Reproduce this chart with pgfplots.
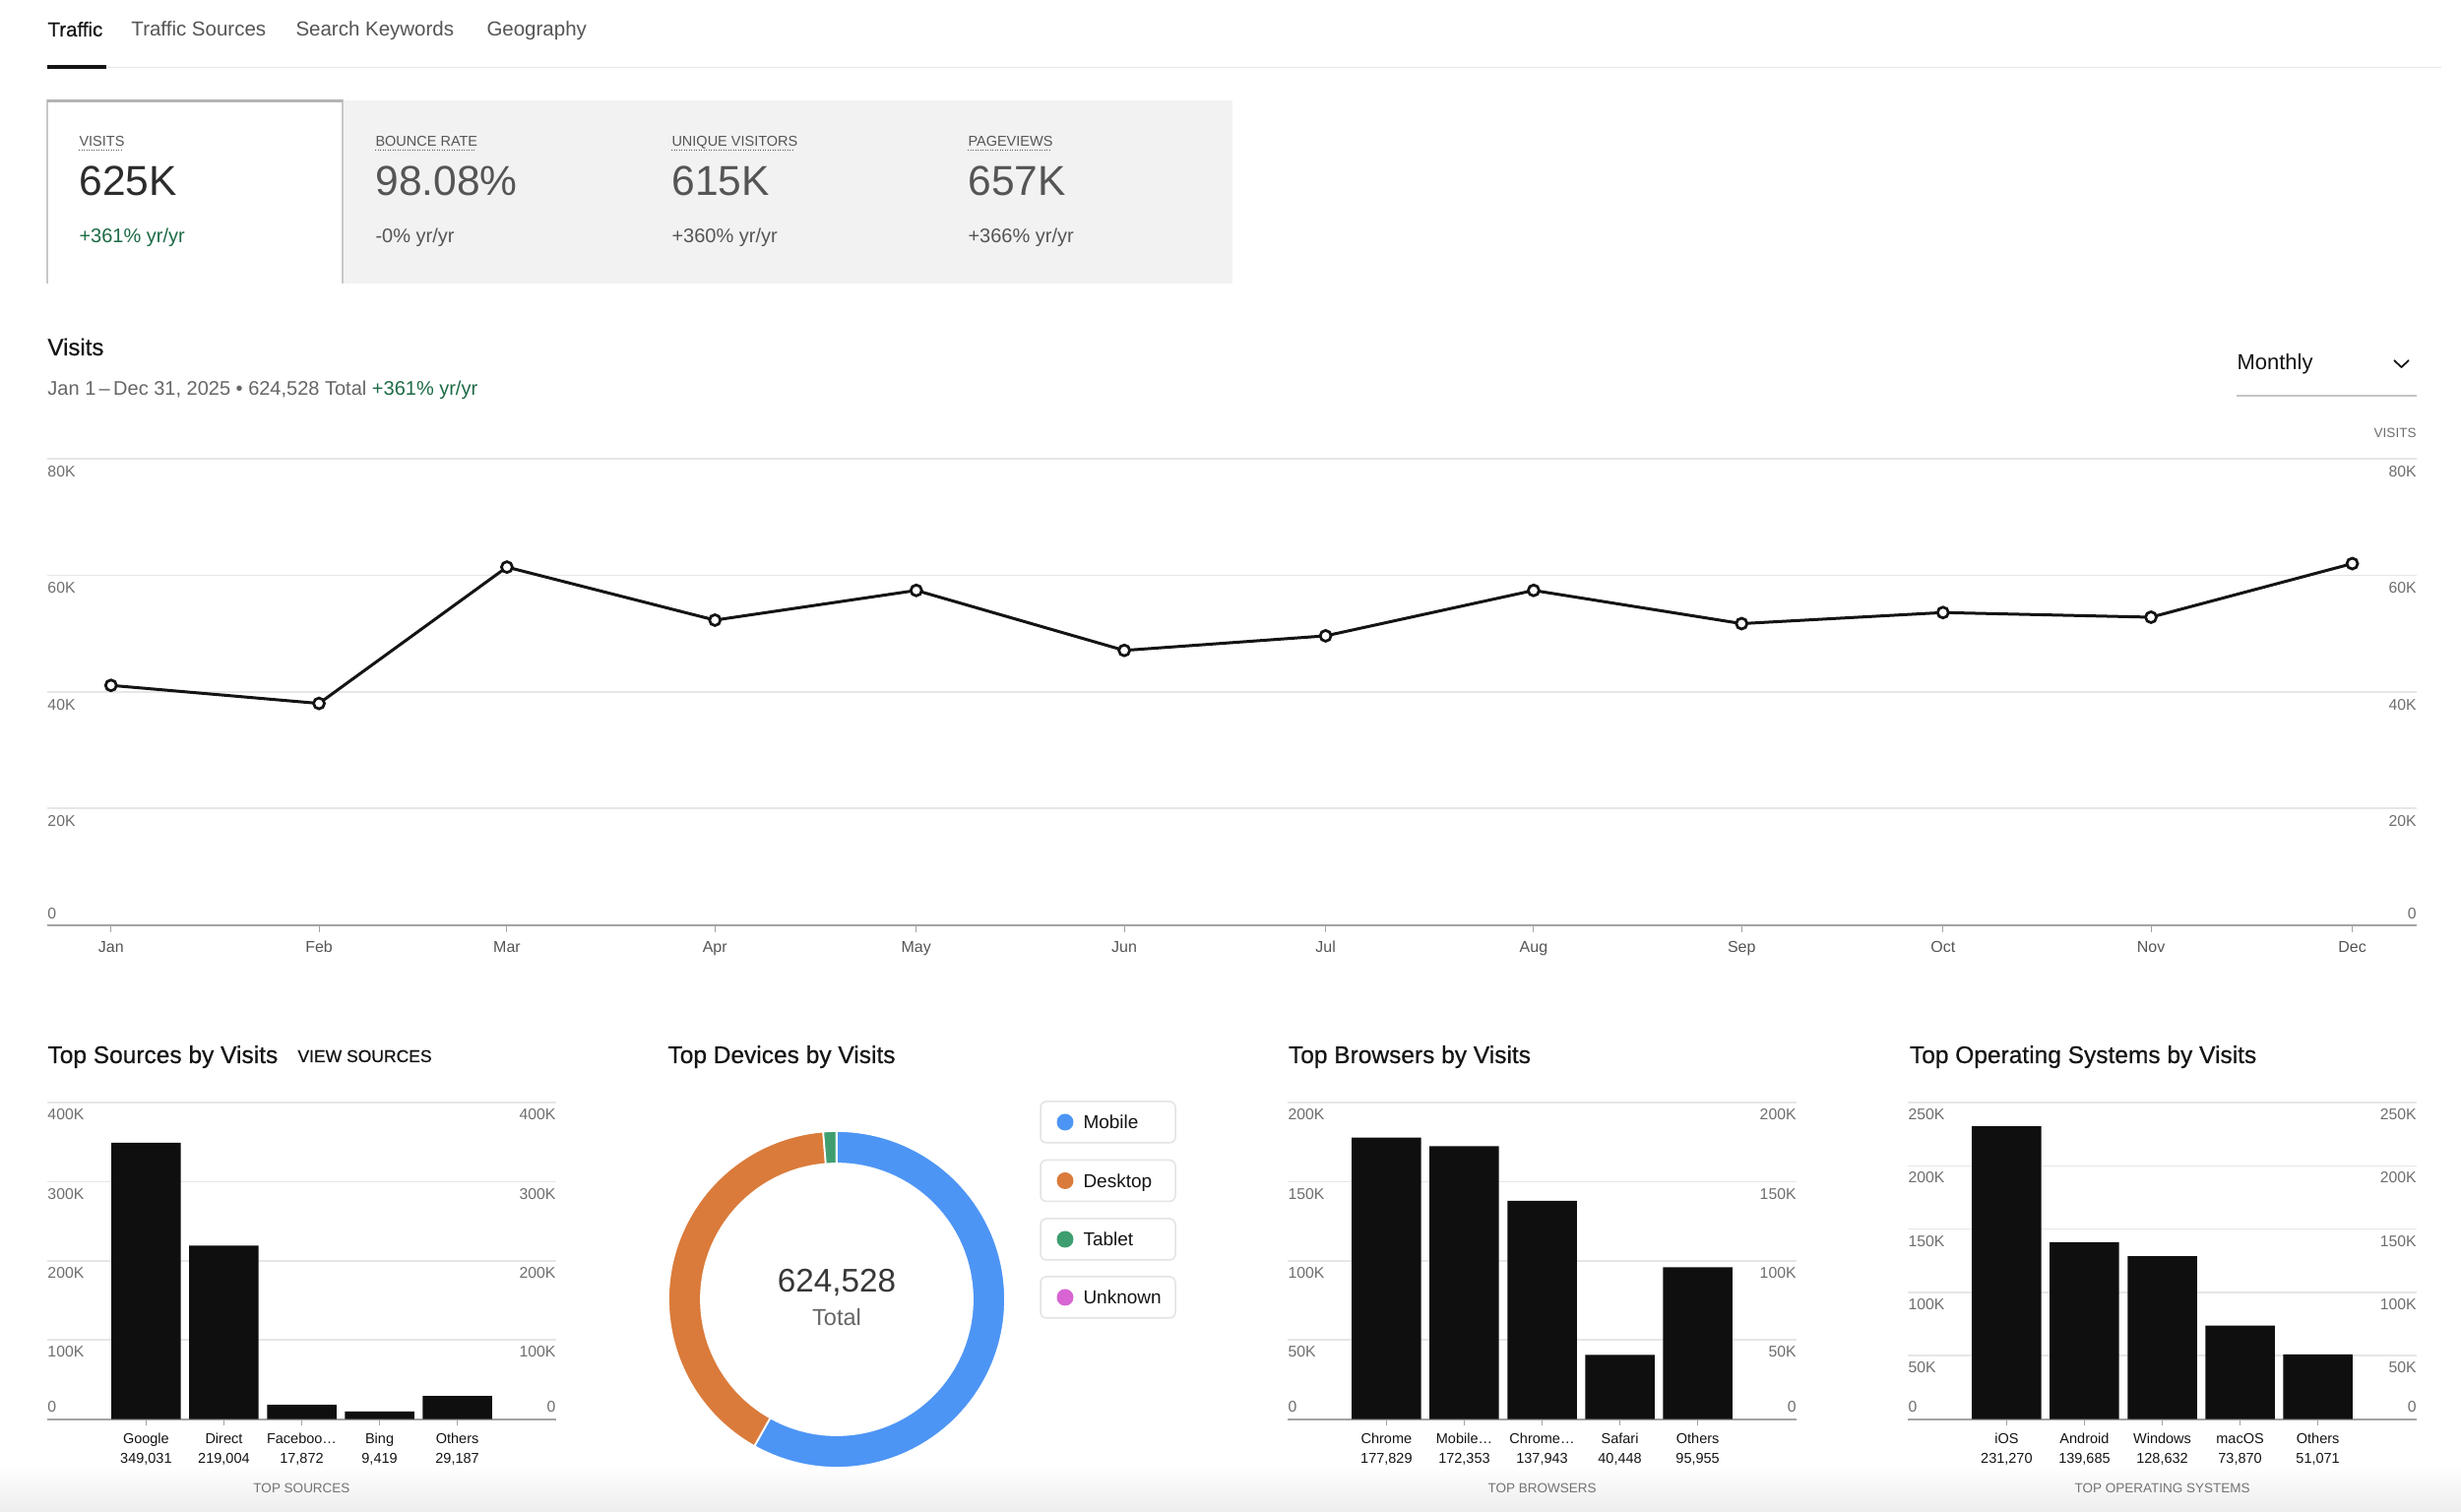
\documentclass[border=0pt]{standalone}
\usepackage{fontspec}
\setmainfont{Liberation Sans}
\newfontfamily\medfont[FakeBold=0.5]{Liberation Sans}
\usepackage{pgfplots}
\usepackage{pgfplotstable}
\pgfplotsset{compat=1.18}

\definecolor{txt}{HTML}{141414}
\definecolor{dim}{HTML}{555555}
\definecolor{sub}{HTML}{666666}
\definecolor{tickc}{HTML}{6E6E6E}
\definecolor{gridc}{HTML}{E6E6E6}
\definecolor{axisc}{HTML}{A3A3A3}
\definecolor{upgreen}{HTML}{1C6B45}
\definecolor{kpibg}{HTML}{F2F2F2}
\definecolor{cardb}{HTML}{C8C8C8}
\definecolor{legb}{HTML}{E3E3E3}
\definecolor{mob}{HTML}{4D95F5}
\definecolor{desk}{HTML}{DA7B3B}
\definecolor{tabc}{HTML}{3F9E6F}
\definecolor{unk}{HTML}{D865D3}
\definecolor{barc}{HTML}{0F0F0F}

\newcommand{\fs}[1]{\fontsize{#1}{#1}\selectfont}

% monthly visits (x = day of year of the 1st of each month)
\pgfplotstableread{
x visits
0 41100
31 38000
59 61400
90 52300
120 57400
151 47100
181 49600
212 57400
243 51700
273 53600
304 52800
334 62000
}\visitstab

\pgfplotstableread{
x v
0 349031
1 219004
2 17872
3 9419
4 29187
}\sourcetab

\pgfplotstableread{
x v
0 177829
1 172353
2 137943
3 40448
4 95955
}\browsertab

\pgfplotstableread{
x v
0 231270
1 139685
2 128632
3 73870
4 51071
}\ostab

\pgfplotstableread{
device v
Mobile 363100
Desktop 253400
Tablet 7900
Unknown 128
}\devtab
\pgfplotstablegetelem{0}{v}\of\devtab \edef\dA{\pgfplotsretval}
\pgfplotstablegetelem{1}{v}\of\devtab \edef\dB{\pgfplotsretval}
\pgfplotstablegetelem{2}{v}\of\devtab \edef\dC{\pgfplotsretval}
\pgfplotstablegetelem{3}{v}\of\devtab \edef\dD{\pgfplotsretval}
\edef\dT{\fpeval{\dA+\dB+\dC+\dD}}
\edef\aA{\fpeval{round(90-360*\dA/\dT,3)}}
\edef\aB{\fpeval{round(\aA-360*\dB/\dT,3)}}
\edef\aC{\fpeval{round(\aB-360*\dC/\dT,3)}}
\edef\aD{\fpeval{round(\aC-360*\dD/\dT,3)}}

\pgfplotsset{
  barax/.style={
    scale only axis, anchor=south west, width=206.8pt, height=128.6pt,
    xmin=-1.27, xmax=5.27, ymin=0,
    axis lines*=left, y axis line style={draw=none},
    x axis line style={draw=axisc, line width=0.8pt},
    yticklabel=\empty, ytick style={draw=none}, scaled y ticks=false,
    ymajorgrids, grid style={draw=gridc, line width=0.6pt},
    xtick={0,1,2,3,4}, tick align=outside, major tick length=2.4pt,
    xtick style={draw=axisc, line width=0.5pt},
    xticklabel style={align=center, font=\fontsize{5.8pt}{8pt}\selectfont, text=txt, inner sep=0pt, anchor=north, yshift=-3.2pt},
    clip=false},
}
\tikzset{ylab/.style={inner sep=0pt, font=\fs{6.3pt}, text=tickc}}

\newcommand{\seg}[3]{\fill[#1, draw=white, line width=0.7pt] (#2:171) arc[start angle=#2, end angle=#3, radius=171] -- (#3:138) arc[start angle=#3, end angle=#2, radius=138] -- cycle;}

\begin{document}
\begin{tikzpicture}
\useasboundingbox (0,0) rectangle (1000pt,-614.4pt);
\fill[white] (0,0) rectangle (1000pt,-614.4pt);

\begin{scope}[x=0.4pt,y=-0.4pt]
% bottom fade
\shade[top color=white, bottom color=black!7] (0,1488) rectangle (2500,1536);
% tabs
\node[anchor=base west, inner sep=0, font=\medfont\fs{8.2pt}, text=txt] at (48,37) {Traffic};
\node[anchor=base west, inner sep=0, font=\fs{8.2pt}, text=dim] at (133,37) {Traffic Sources};
\node[anchor=base west, inner sep=0, font=\fs{8.2pt}, text=dim] at (300,37) {Search Keywords};
\node[anchor=base west, inner sep=0, font=\fs{8.2pt}, text=dim] at (494,37) {Geography};
\draw[gridc, line width=0.7pt] (48,68.5) -- (2480,68.5);
\fill[txt] (48,66) rectangle (108,70);

% KPI cards
\fill[kpibg] (348,102) rectangle (1252,288);
\fill[white] (48,102) rectangle (348,288);
\draw[cardb, line width=0.5pt] (48,288) -- (48,102) -- (348,102) -- (348,288);
\draw[cardb!90!black, line width=0.9pt] (48,102.5) -- (348,102.5);
\foreach \xx/\lab/\ww in {80/VISITS/44,381/BOUNCE RATE/101,682/UNIQUE VISITORS/124,983/PAGEVIEWS/84}{
  \node[anchor=base west, inner sep=0, font=\fs{5.8pt}, text=dim] at (\xx,148.5) {\lab};
  \draw[dim, line width=0.4pt, dash pattern=on 0.4pt off 0.6pt] (\xx,153) -- ++(\ww,0);
}
\node[anchor=base west, inner sep=0, font=\fs{17pt}, text=txt!90] at (80,198.5) {625K};
\node[anchor=base west, inner sep=0, font=\fs{17pt}, text=dim] at (381,198.5) {98.08\%};
\node[anchor=base west, inner sep=0, font=\fs{17pt}, text=dim] at (682,198.5) {615K};
\node[anchor=base west, inner sep=0, font=\fs{17pt}, text=dim] at (983,198.5) {657K};
\node[anchor=base west, inner sep=0, font=\fs{8pt}, text=upgreen] at (80,246.5) {+361\% yr/yr};
\node[anchor=base west, inner sep=0, font=\fs{8pt}, text=dim] at (381,246.5) {-0\% yr/yr};
\node[anchor=base west, inner sep=0, font=\fs{8pt}, text=dim] at (682,246.5) {+360\% yr/yr};
\node[anchor=base west, inner sep=0, font=\fs{8pt}, text=dim] at (983,246.5) {+366\% yr/yr};

% Visits header
\node[anchor=base west, inner sep=0, font=\medfont\fs{9.6pt}, text=txt] at (48,361) {Visits};
\node[anchor=base west, inner sep=0, font=\fs{8pt}, text=sub] at (48,401.5) {Jan 1\,–\,Dec 31, 2025 • 624,528 Total \textcolor{upgreen}{+361\% yr/yr}};
\node[anchor=base west, inner sep=0, font=\fs{8.8pt}, text=txt] at (2272,376) {Monthly};
\draw[txt, line width=0.7pt] (2432,366) -- (2439.5,373) -- (2447,366);
\draw[gridc!85!black, line width=0.6pt] (2272,402) -- (2455,402);
\node[anchor=base east, inner sep=0, font=\fs{5.4pt}, text=tickc] at (2455,445) {VISITS};

% bottom titles
\node[anchor=base west, inner sep=0, font=\medfont\fs{9.8pt}, text=txt] at (48,1080) {Top Sources by Visits};
\node[anchor=base west, inner sep=0, font=\medfont\fs{7pt}, text=txt] at (302,1079) {VIEW SOURCES};
\node[anchor=base west, inner sep=0, font=\medfont\fs{9.8pt}, text=txt] at (678,1080) {Top Devices by Visits};
\node[anchor=base west, inner sep=0, font=\medfont\fs{9.8pt}, text=txt] at (1308.5,1080) {Top Browsers by Visits};
\node[anchor=base west, inner sep=0, font=\medfont\fs{9.8pt}, text=txt] at (1939.5,1080) {Top Operating Systems by Visits};

% device legend
\foreach \yy/\cc/\lab in {1140/mob/Mobile,1199.5/desk/Desktop,1259/tabc/Tablet,1318/unk/Unknown}{
  \draw[legb, fill=white, rounded corners=2.4pt, line width=0.6pt] (1057,\yy-21) rectangle (1194,\yy+21);
  \fill[\cc] (1082,\yy) circle[radius=3.4pt];
  \node[anchor=base west, inner sep=0, font=\fs{7.6pt}, text=txt] at (1100,\yy+7) {\lab};
}
% donut centre text
\node[anchor=base, inner sep=0, font=\fs{13.3pt}, text=txt!85] at (850,1313) {624,528};
\node[anchor=base, inner sep=0, font=\fs{9.4pt}, text=sub] at (850,1346.5) {Total};
\end{scope}

% donut (angles computed from the device table)
\begin{scope}[shift={(340pt,-528pt)}, x=0.4pt, y=0.4pt]
\seg{mob}{90}{\aA}
\seg{desk}{\aA}{\aB}
\seg{tabc}{\aB}{\aC}
\seg{unk}{\aC}{\aD}
\end{scope}

% main line chart
\begin{axis}[
  at={(19.2pt,-375.8pt)}, anchor=south west, scale only axis,
  width=962.8pt, height=189.4pt,
  xmin=-9.5, xmax=343.6, ymin=0, ymax=80000,
  axis lines*=left, y axis line style={draw=none},
  x axis line style={draw=axisc, line width=0.8pt},
  ytick={0,20000,40000,60000,80000}, yticklabel=\empty, ytick style={draw=none}, scaled y ticks=false,
  ymajorgrids, grid style={draw=gridc, line width=0.6pt},
  xtick={0,31,59,90,120,151,181,212,243,273,304,334},
  xticklabels={Jan,Feb,Mar,Apr,May,Jun,Jul,Aug,Sep,Oct,Nov,Dec},
  tick align=outside, major tick length=2.8pt,
  xtick style={draw=axisc, line width=0.4pt},
  xticklabel style={font=\fs{6.4pt}, text=dim, inner sep=0pt, anchor=north, yshift=-3.6pt},
  clip=false,
]
\addplot[txt, line width=1.2pt, mark=*, mark size=2.2pt, mark options={fill=white, draw=txt, line width=1.1pt}] table[x=x, y=visits] {\visitstab};
\pgfplotsinvokeforeach{20,40,60,80}{
  \node[ylab, anchor=west, yshift=-5.2pt] at (axis cs:-9.5,#1000) {#1K};
  \node[ylab, anchor=east, yshift=-5.2pt] at (axis cs:343.6,#1000) {#1K};
}
\node[ylab, anchor=west, yshift=4.4pt] at (axis cs:-9.5,0) {0};
\node[ylab, anchor=east, yshift=4.4pt] at (axis cs:343.6,0) {0};
\end{axis}

% top sources
\begin{axis}[barax, at={(19.2pt,-576.6pt)}, ymax=400000,
  ytick={0,100000,200000,300000,400000},
  xticklabels={{Google\\349,031},{Direct\\219,004},{Faceboo…\\17,872},{Bing\\9,419},{Others\\29,187}}]
\addplot[ybar, bar width=28.2pt, fill=barc, draw=none] table[x=x, y=v] {\sourcetab};
\pgfplotsinvokeforeach{100,200,300,400}{
  \node[ylab, anchor=west, yshift=-4.9pt] at (axis cs:-1.27,#1000) {#1K};
  \node[ylab, anchor=east, yshift=-4.9pt] at (axis cs:5.27,#1000) {#1K};
}
\node[ylab, anchor=west, yshift=4.8pt] at (axis cs:-1.27,0) {0};
\node[ylab, anchor=east, yshift=4.8pt] at (axis cs:5.27,0) {0};
\node[inner sep=0pt, font=\fs{5.4pt}, text=black!55, yshift=-28.2pt] at (axis cs:2,0) {TOP SOURCES};
\end{axis}

% top browsers
\begin{axis}[barax, at={(523.2pt,-576.6pt)}, ymax=200000,
  ytick={0,50000,100000,150000,200000},
  xticklabels={{Chrome\\177,829},{Mobile…\\172,353},{Chrome…\\137,943},{Safari\\40,448},{Others\\95,955}}]
\addplot[ybar, bar width=28.2pt, fill=barc, draw=none] table[x=x, y=v] {\browsertab};
\pgfplotsinvokeforeach{50,100,150,200}{
  \node[ylab, anchor=west, yshift=-4.9pt] at (axis cs:-1.27,#1000) {#1K};
  \node[ylab, anchor=east, yshift=-4.9pt] at (axis cs:5.27,#1000) {#1K};
}
\node[ylab, anchor=west, yshift=4.8pt] at (axis cs:-1.27,0) {0};
\node[ylab, anchor=east, yshift=4.8pt] at (axis cs:5.27,0) {0};
\node[inner sep=0pt, font=\fs{5.4pt}, text=black!55, yshift=-28.2pt] at (axis cs:2,0) {TOP BROWSERS};
\end{axis}

% top operating systems
\begin{axis}[barax, at={(775.2pt,-576.6pt)}, ymax=250000,
  ytick={0,50000,100000,150000,200000,250000},
  xticklabels={{iOS\\231,270},{Android\\139,685},{Windows\\128,632},{macOS\\73,870},{Others\\51,071}}]
\addplot[ybar, bar width=28.2pt, fill=barc, draw=none] table[x=x, y=v] {\ostab};
\pgfplotsinvokeforeach{50,100,150,200,250}{
  \node[ylab, anchor=west, yshift=-4.9pt] at (axis cs:-1.27,#1000) {#1K};
  \node[ylab, anchor=east, yshift=-4.9pt] at (axis cs:5.27,#1000) {#1K};
}
\node[ylab, anchor=west, yshift=4.8pt] at (axis cs:-1.27,0) {0};
\node[ylab, anchor=east, yshift=4.8pt] at (axis cs:5.27,0) {0};
\node[inner sep=0pt, font=\fs{5.4pt}, text=black!55, yshift=-28.2pt] at (axis cs:2,0) {TOP OPERATING SYSTEMS};
\end{axis}
\end{tikzpicture}
\end{document}
